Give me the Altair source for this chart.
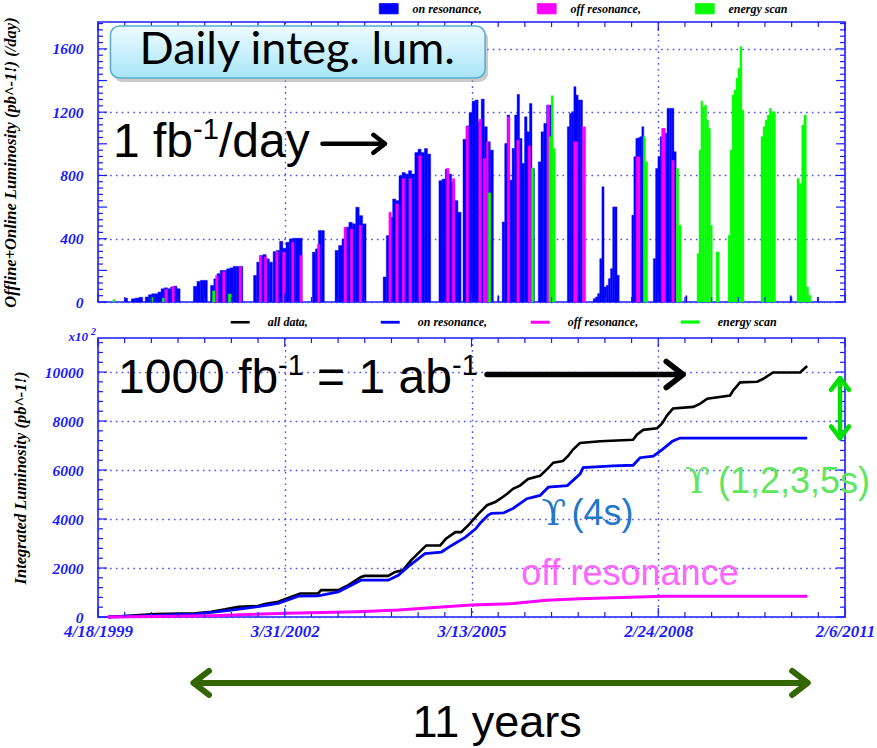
import altair as alt
import pandas as pd

# ---------------- top panel: daily luminosity (pb^-1 / day), spans in decimal years ----------------
ON_START = [1999.72, 1999.82, 2000.04, 2000.80, 2001.07, 2001.75, 2002.06, 2002.68, 2003.04,
            2003.80, 2004.68, 2005.06, 2005.61, 2005.68, 2006.25, 2006.71, 2007.12, 2007.73,
            2008.07, 2008.58, 2010.23, 2010.66]
ON_END = [1999.76, 2000.00, 2000.59, 2001.02, 2001.58, 2002.05, 2002.52, 2002.87, 2003.53,
          2004.55, 2005.03, 2005.54, 2005.63, 2006.19, 2006.47, 2006.95, 2007.53, 2007.92,
          2008.43, 2008.60, 2010.25, 2010.68]
ON_HEIGHTS = [
    [25], [20, 25, 30],
    [32, 46, 52, 52, 63, 84, 90, 84, 95, 100, 84],
    [99, 130, 137, 137],
    [105, 147, 179, 200, 200, 210, 216, 225, 225, 225],
    [168, 252, 294, 300, 273, 252],
    [319, 326, 384, 340, 378, 399, 403, 403, 403],
    [315, 336, 452, 452],
    [326, 357, 399, 473, 504, 494, 599, 546, 494],
    [158, 420, 536, 651, 641, 798, 819, 809, 830, 809, 945, 966, 945, 970, 935],
    [767, 777, 840, 809, 756, 641, 567],
    [1029, 1113, 1197, 1270, 1277, 1140, 1283, 1108, 1013, 960],
    [40],
    [506, 1002, 1182, 770, 971, 1182, 1312, 1034, 876, 1171, 1076, 1255, 844],
    [886, 1076, 1129, 1245, 1245],
    [1108, 1192, 1203, 1361, 1308, 1277, 1277],
    [21, 32, 53, 274, 728, 95, 105, 148, 211, 601, 601, 169],
    [549, 918, 1034, 1038, 1045, 1108],
    [274, 844, 918, 1045, 1097, 1066, 1224, 1224, 1224, 950],
    [40], [40], [30],
]
OFF_START = [2000.35, 2000.46, 2001.15, 2001.26, 2001.52, 2001.84, 2001.92, 2002.10, 2002.21,
             2002.35, 2002.48, 2002.76, 2003.18, 2003.28, 2003.42, 2003.89, 2004.00, 2004.10,
             2004.21, 2004.36, 2004.80, 2004.89, 2005.11, 2005.31, 2005.38, 2005.43, 2005.76,
             2005.91, 2006.09, 2006.39, 2006.81, 2006.95, 2007.80, 2008.20, 2008.36]
OFF_END = [2000.39, 2000.50, 2001.19, 2001.30, 2001.56, 2001.88, 2001.96, 2002.14, 2002.25,
           2002.39, 2002.52, 2002.80, 2003.22, 2003.32, 2003.46, 2003.93, 2004.04, 2004.14,
           2004.25, 2004.40, 2004.84, 2004.93, 2005.15, 2005.35, 2005.42, 2005.46, 2005.80,
           2005.95, 2006.13, 2006.43, 2006.87, 2007.00, 2007.86, 2008.26, 2008.40]
OFF_VALUE = [80, 98, 168, 193, 225, 294, 285, 319, 315, 378, 295, 365, 473, 460, 485, 567, 620,
             780, 780, 925, 845, 780, 1110, 1155, 907, 1013, 1170, 1023, 987, 1245, 1013, 1108,
             918, 1097, 895]
SCAN_START = [1999.53, 2000.13, 2000.31, 2001.10, 2001.35, 2005.46, 2006.14, 2006.42, 2007.91,
              2008.43, 2008.76, 2009.06, 2009.25, 2009.77, 2010.34]
SCAN_END = [1999.56, 2000.16, 2000.34, 2001.14, 2001.40, 2005.50, 2006.18, 2006.52, 2007.98,
            2008.51, 2009.00, 2009.11, 2009.50, 2010.00, 2010.56]
SCAN_HEIGHTS = [[15], [30], [25], [70], [50], [690], [848], [1045, 1304, 970], [1045, 886],
                [844, 485], [306, 960, 1270, 1234, 1245, 1150, 1097, 485], [316],
                [422, 960, 1308, 1340, 1414, 1477, 1614, 1213],
                [1045, 1108, 1150, 1182, 1224, 1203, 1203], [781, 749, 1118, 1182, 95, 42]]
BAR_KINDS = ['on resonance,', 'off resonance,', 'energy scan']
BAR_COLORS = ['#0000ff', '#ff00ff', '#00ff00']

# ---------------- bottom panel: integrated luminosity (x10^2 pb^-1) ----------------
ALL_T = [1999.45, 2000.20, 2000.83, 2001.08, 2001.30, 2001.51, 2001.82, 2001.93, 2002.14, 2002.35,
         2002.49, 2002.77, 2002.82, 2003.09, 2003.25, 2003.45, 2003.51, 2003.88, 2003.99, 2004.11,
         2004.24, 2004.48, 2004.70, 2004.79, 2004.94, 2005.03, 2005.14, 2005.30, 2005.44, 2005.57,
         2005.65, 2005.76, 2005.85, 2005.96, 2006.09, 2006.28, 2006.39, 2006.49, 2006.64, 2006.72,
         2006.80, 2006.91, 2007.23, 2007.75, 2007.81, 2007.91, 2008.13, 2008.21, 2008.29, 2008.38,
         2008.70, 2008.81, 2008.92, 2009.28, 2009.33, 2009.44, 2009.71, 2009.80, 2009.96, 2010.39,
         2010.50]
ALL_V = [0, 120, 150, 216, 311, 420, 446, 528, 622, 825, 960, 960, 1096, 1096, 1300, 1637, 1678,
         1678, 1840, 1908, 2314, 2922, 2922, 3193, 3464, 3464, 3734, 4200, 4563, 4696, 4830, 5031,
         5232, 5365, 5633, 5767, 6034, 6302, 6369, 6570, 6837, 7105, 7172, 7239, 7439, 7640, 7707,
         7908, 8242, 8510, 8577, 8710, 8911, 9045, 9246, 9580, 9607, 9714, 9981, 9981, 10249]
ONL_T = [1999.45, 2000.83, 2001.40, 2001.82, 2002.14, 2002.46, 2002.77, 2003.09, 2003.45, 2003.88,
         2004.04, 2004.19, 2004.46, 2004.72, 2004.88, 2005.10, 2005.26, 2005.33, 2005.46, 2005.51,
         2005.70, 2005.85, 2006.07, 2006.28, 2006.41, 2006.71, 2006.91, 2006.96, 2007.43, 2007.75,
         2007.86, 2008.07, 2008.21, 2008.37, 2008.49, 2010.50]
ONL_V = [0, 120, 284, 420, 555, 852, 866, 1028, 1502, 1502, 1705, 2043, 2584, 2652, 2922, 3261,
         3599, 3827, 4161, 4230, 4250, 4429, 4830, 4964, 5298, 5365, 5834, 6101, 6168, 6195, 6503,
         6570, 6837, 7172, 7305, 7305]
OFFL_T = [1999.45, 2001.08, 2002.28, 2003.39, 2004.04, 2004.78, 2005.19, 2005.85, 2006.38, 2006.91,
          2007.43, 2008.22, 2010.50]
OFFL_V = [0, 54, 150, 216, 284, 420, 487, 549, 682, 749, 789, 843, 843]
LINE_KINDS = ['all data,', 'on resonance,', 'off resonance,', 'energy scan']
LINE_COLORS = ['#000000', '#0000ff', '#ff00ff', '#00ff00']

# ---------------- annotations (decimal year, value) ----------------
BOX_T, BOX_V = [1999.49, 2005.41], [1745, 1416]
BOX_LABEL, BOX_LABEL_T, BOX_LABEL_V = 'Daily integ. lum.', 2002.44, 1505
RATE_T, RATE_V = 1999.53, 917
RATE_PIECES = ['1 fb', '-1', '/day']
RATE_ARROW_T, RATE_ARROW_V = [2002.84, 2003.83], 1000
AB_T, AB_V = 1999.61, 9144
AB_PIECES = ['1000 fb', '-1', '= 1 ab', '-1']
AB_ARROW_T, AB_ARROW_V = [2005.44, 2008.54], 9900
GAP_ARROW_T, GAP_ARROW_V = 2011.02, [9750, 7300]
UPS_PIECES, UPS_T, UPS_V = ['\u03d2', '(1,2,3,5s)'], 2008.57, 5062
UPS4_PIECES, UPS4_T, UPS4_V = ['\u03d2', '(4s)'], 2006.30, 3755
OFFR_LABEL, OFFR_T, OFFR_V = 'off resonance', 2005.98, 1306
SPAN_ARROW_T, SPAN_ARROW_V = [2000.80, 2010.51], -2694
SPAN_LABEL, SPAN_T, SPAN_V = '11 years', 2005.60, -4898

# ---------------- helpers ----------------
W, HT, HB = 747, 280, 279
AX = '#1b1bff'
GRIDC = '#4b4bff'
SANS = 'Liberation Sans, Arial, DejaVu Sans'


def yr(v):
    y = int(v)
    a = pd.Timestamp(year=y, month=1, day=1)
    b = pd.Timestamp(year=y + 1, month=1, day=1)
    return a + (b - a) * (v - y)


def dt(d):
    return alt.DateTime(year=int(d.year), month=int(d.month), date=int(d.day))


def spans(starts, ends, heights, kind):
    rows = []
    for s, e, hs in zip(starts, ends, heights):
        if not isinstance(hs, list):
            hs = [hs]
        step = (e - s) / len(hs)
        for i, h in enumerate(hs):
            rows.append({'t0': yr(s + i * step), 't1': yr(s + (i + 1) * step), 'v': h, 'kind': kind})
    return rows


X_TICKS = pd.date_range('1999-04-18', periods=29, freq='154D')
X_MAJOR = list(X_TICKS[::7])
X_MINOR = [d for i, d in enumerate(X_TICKS) if i % 7]
XSCALE = alt.Scale(domain=[dt(X_MAJOR[0]), dt(X_MAJOR[-1])], nice=False)
XVALS = [dt(d) for d in X_MAJOR]

LAB = dict(labelFont='Liberation Serif', labelFontStyle='italic', labelFontWeight='bold',
           labelColor=AX)
TIT = dict(titleFont='Liberation Serif', titleFontStyle='italic', titleFontWeight='bold',
           titleColor='black', titleFontSize=16.5)
GR = dict(grid=True, gridColor=GRIDC, gridDash=[1.6, 4.2], gridWidth=1.4)
LEG = dict(title=None, orient='none', direction='horizontal', labelFont='Liberation Serif',
           labelFontStyle='italic', labelFontWeight='bold', labelFontSize=12,
           labelColor='black', gridAlign='all', padding=0, symbolSize=90)

RIGHT = 'M-1.3,-1L0,0L-1.3,1'
LEFT = 'M1.3,-1L0,0L1.3,1'
UP = 'M-1,1.3L0,0L1,1.3'
DOWN = 'M-1,-1.3L0,0L1,-1.3'


def tick_layers(h, y_minor, y_major):
    out = []
    for vals, ln in ((y_minor, 5), (y_major, 9)):
        d = pd.DataFrame({'v': vals})
        out.append(alt.Chart(d).mark_rule(color=AX, strokeWidth=1.2).encode(
            y='v:Q', x=alt.value(0), x2=alt.value(ln)))
        out.append(alt.Chart(d).mark_rule(color=AX, strokeWidth=1.2).encode(
            y='v:Q', x=alt.value(W - ln), x2=alt.value(W)))
    for vals, ln in ((X_MINOR, 5), (X_MAJOR, 9)):
        d = pd.DataFrame({'t0': vals})
        out.append(alt.Chart(d).mark_rule(color=AX, strokeWidth=1.2).encode(
            x='t0:T', y=alt.value(0), y2=alt.value(ln)))
        out.append(alt.Chart(d).mark_rule(color=AX, strokeWidth=1.2).encode(
            x='t0:T', y=alt.value(h - ln), y2=alt.value(h)))
    return out


def pt(t, v, label=''):
    return pd.DataFrame({'t0': [yr(t)], 'v': [v], 'label': [label]})


def text_layer(t, v, label, **kw):
    return alt.Chart(pt(t, v, label)).mark_text(**kw).encode(x='t0:T', y='v:Q', text='label:N')


def rich(t, v, pieces, styles, color):
    # styles: (font, size, dx, dy) for each piece of the text
    return [text_layer(t, v, p, font=f, fontSize=s, dx=dx, dy=dy, align='left',
                       baseline='alphabetic', color=color)
            for p, (f, s, dx, dy) in zip(pieces, styles)]


def hrule(t0, t1, v, **kw):
    d = pd.DataFrame({'t0': [yr(t0)], 't1': [yr(t1)], 'v': [v]})
    return alt.Chart(d).mark_rule(strokeCap='round', **kw).encode(x='t0:T', x2='t1:T', y='v:Q')


def vrule(t, v0, v1, **kw):
    d = pd.DataFrame({'t0': [yr(t)], 'v': [v0], 'v2': [v1]})
    return alt.Chart(d).mark_rule(strokeCap='round', **kw).encode(x='t0:T', y='v:Q', y2='v2:Q')


def head(t, v, shape, size, color, width):
    return alt.Chart(pt(t, v)).mark_point(shape=shape, size=size, filled=False, color=color,
                                           strokeWidth=width, opacity=1, strokeCap='round',
                                           strokeJoin='round').encode(x='t0:T', y='v:Q')


# ---------------- top panel ----------------
bars_df = pd.DataFrame(spans(ON_START, ON_END, ON_HEIGHTS, BAR_KINDS[0])
                       + spans(OFF_START, OFF_END, OFF_VALUE, BAR_KINDS[1])
                       + spans(SCAN_START, SCAN_END, SCAN_HEIGHTS, BAR_KINDS[2]))

bars = alt.Chart(bars_df).mark_rect(strokeWidth=0.4).encode(
    x=alt.X('t0:T', scale=XSCALE,
            axis=alt.Axis(values=XVALS, labels=False, ticks=False, domain=False, title=None, **GR)),
    x2='t1:T',
    y=alt.Y('v:Q', scale=alt.Scale(domain=[0, 1770], nice=False, zero=False),
            axis=alt.Axis(values=list(range(0, 1601, 200)), format='d', ticks=False,
                          domain=False, labelFontSize=15.5, labelPadding=15,
                          title='Offline+Online Luminosity (pb^-1!) (/day)', titleX=-80,
                          **LAB, **TIT, **GR)),
    y2=alt.datum(0),
    color=alt.Color('kind:N', scale=alt.Scale(domain=BAR_KINDS, range=BAR_COLORS),
                    legend=alt.Legend(legendX=284.75, legendY=-19.5, columns=3,
                                      symbolType='M-2,-1.1H2V1.1H-2Z',
                                      symbolStrokeColor='black', symbolStrokeWidth=0.7,
                                      symbolOpacity=1, labelOffset=17.75, columnPadding=52,
                                      **LEG)),
    stroke=alt.Stroke('kind:N', scale=alt.Scale(domain=BAR_KINDS, range=BAR_COLORS), legend=None),
)

box_df = pd.DataFrame({'t0': [yr(BOX_T[0])], 't1': [yr(BOX_T[1])], 'v': [BOX_V[0]], 'v2': [BOX_V[1]]})
shadow = alt.Chart(box_df).mark_rect(fill='#8c8c8c', opacity=0.45, cornerRadius=9, xOffset=3,
                                     x2Offset=3, yOffset=4, y2Offset=4).encode(
    x='t0:T', x2='t1:T', y='v:Q', y2='v2:Q')
box = alt.Chart(box_df).mark_rect(
    fill=alt.Gradient(gradient='linear', x1=0, x2=0, y1=0, y2=1,
                      stops=[alt.GradientStop(color='#eefbff', offset=0),
                             alt.GradientStop(color='#a8e6f8', offset=1)]),
    stroke='#5aaecb', strokeWidth=1.6, cornerRadius=9).encode(
    x='t0:T', x2='t1:T', y='v:Q', y2='v2:Q')

top_layers = [bars] + tick_layers(HT, [v for v in range(0, 1771, 40) if v % 200],
                                  list(range(0, 1601, 200)))
top_layers += [
    shadow, box,
    text_layer(BOX_LABEL_T, BOX_LABEL_V, BOX_LABEL, font='Lato', fontSize=45, align='center',
               baseline='alphabetic', color='black'),
]
top_layers += rich(RATE_T, RATE_V, RATE_PIECES,
                   [(SANS, 48, 0, 0), (SANS, 29, 80, -18), (SANS, 48, 106, 0)], 'black')
top_layers += [
    hrule(RATE_ARROW_T[0], RATE_ARROW_T[1] - 0.03, RATE_ARROW_V, color='black', strokeWidth=4.5),
    head(RATE_ARROW_T[1], RATE_ARROW_V, RIGHT, 324, 'black', 4.5),
]
top = alt.layer(*top_layers).properties(width=W, height=HT)

# ---------------- bottom panel ----------------
line_rows = []
for kind, ts, vs in ((LINE_KINDS[0], ALL_T, ALL_V), (LINE_KINDS[1], ONL_T, ONL_V),
                     (LINE_KINDS[2], OFFL_T, OFFL_V)):
    for t, v in zip(ts, vs):
        line_rows.append({'t0': yr(t), 'v': v, 'series': kind})
lines_df = pd.DataFrame(line_rows)

lines = alt.Chart(lines_df).mark_line(strokeJoin='miter').encode(
    x=alt.X('t0:T', scale=XSCALE,
            axis=alt.Axis(values=XVALS, format='%-m/%-d/%Y', labelFontSize=17, labelPadding=6,
                          labelFlush=False, labelOverlap=False, ticks=False, domain=False,
                          title=None, **LAB, **GR)),
    y=alt.Y('v:Q', scale=alt.Scale(domain=[0, 11390], nice=False, zero=False),
            axis=alt.Axis(values=list(range(0, 10001, 2000)), format='d', ticks=False,
                          domain=False, labelFontSize=15.5, labelPadding=15,
                          title='Integrated Luminosity (pb^-1!)', titleX=-70, **LAB, **TIT, **GR)),
    color=alt.Color('series:N', scale=alt.Scale(domain=LINE_KINDS, range=LINE_COLORS),
                    legend=alt.Legend(legendX=135.75, legendY=-22.5, columns=4,
                                      symbolType='M-2,0H2',
                                      symbolStrokeWidth=2.5, labelOffset=21, columnPadding=35,
                                      **LEG)),
    strokeWidth=alt.StrokeWidth('series:N', scale=alt.Scale(domain=LINE_KINDS,
                                                            range=[2.6, 3.2, 2.6, 2.6]),
                                legend=None),
)

x10 = alt.Chart(pd.DataFrame({'a': [0]})).mark_text(
    text='x10', font='Liberation Serif', fontStyle='italic', fontWeight='bold', fontSize=13,
    color=AX, align='right', baseline='alphabetic').encode(x=alt.value(-10), y=alt.value(3))
x10e = alt.Chart(pd.DataFrame({'a': [0]})).mark_text(
    text='2', font='Liberation Serif', fontStyle='italic', fontWeight='bold', fontSize=10,
    color=AX, align='left', baseline='alphabetic').encode(x=alt.value(-7), y=alt.value(-3))

bot_layers = [lines] + tick_layers(HB, [v for v in range(0, 11391, 400) if v % 2000],
                                   list(range(0, 10001, 2000)))
bot_layers += [x10, x10e]
bot_layers += rich(AB_T, AB_V, AB_PIECES,
                   [(SANS, 48, 0, 0), (SANS, 29, 160, -18), (SANS, 48, 199, 0),
                    (SANS, 29, 334, -18)], 'black')
bot_layers += [
    hrule(AB_ARROW_T[0], AB_ARROW_T[1] - 0.04, AB_ARROW_V, color='black', strokeWidth=5.5),
    head(AB_ARROW_T[1], AB_ARROW_V, RIGHT, 676, 'black', 5.5),
    vrule(GAP_ARROW_T, GAP_ARROW_V[0], GAP_ARROW_V[1], color='#00e000', strokeWidth=4.5),
    head(GAP_ARROW_T, GAP_ARROW_V[0], UP, 324, '#00e000', 4.5),
    head(GAP_ARROW_T, GAP_ARROW_V[1], DOWN, 324, '#00e000', 4.5),
]
bot_layers += rich(UPS_T, UPS_V, UPS_PIECES,
                   [('DejaVu Serif', 36, 0, 0), (SANS, 36, 33, 0)], '#5ee65e')
bot_layers += rich(UPS4_T, UPS4_V, UPS4_PIECES,
                   [('DejaVu Serif', 36, 0, 0), (SANS, 36, 30, 0)], '#2277cc')
bot_layers += [
    text_layer(OFFR_T, OFFR_V, OFFR_LABEL, font=SANS, fontSize=36, align='left',
               baseline='alphabetic', color='#ff66ff'),
    hrule(SPAN_ARROW_T[0] + 0.04, SPAN_ARROW_T[1] - 0.04, SPAN_ARROW_V, color='#336600',
          strokeWidth=6),
    head(SPAN_ARROW_T[0], SPAN_ARROW_V, LEFT, 576, '#336600', 6),
    head(SPAN_ARROW_T[1], SPAN_ARROW_V, RIGHT, 576, '#336600', 6),
    text_layer(SPAN_T, SPAN_V, SPAN_LABEL, font=SANS, fontSize=45, align='center',
               baseline='alphabetic', color='black'),
]
bottom = alt.layer(*bot_layers).properties(width=W, height=HB)

chart = alt.vconcat(top, bottom, spacing=2).resolve_scale(
    color='independent', stroke='independent', strokeWidth='independent',
    x='independent', y='independent'
).properties(
    padding={'left': 1, 'top': 1, 'right': 0, 'bottom': 0}
).configure_view(stroke=AX, strokeWidth=1.6)

chart.save('out.html', embed_options={'renderer': 'svg', 'actions': False})
